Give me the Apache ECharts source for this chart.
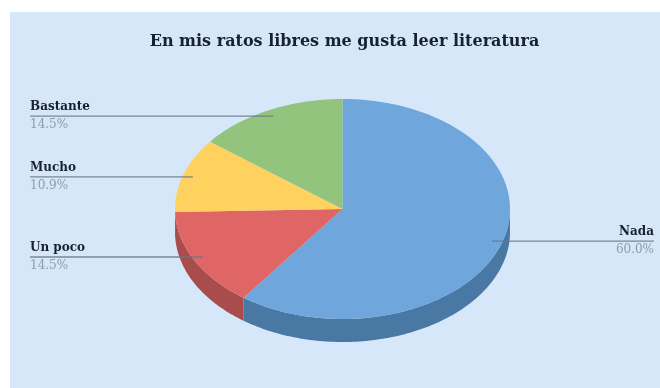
<!DOCTYPE html>
<html>
<head>
<meta charset="utf-8">
<style>
  html, body { margin: 0; padding: 0; background: #ffffff; }
  #chart { width: 660px; height: 388px; }
</style>
<script src="https://cdn.jsdelivr.net/npm/echarts@6/dist/echarts.min.js"></script>
</head>
<body>
<div id="chart"></div>
<script>
// Survey answers, in clockwise order from twelve o'clock
const categories = ['Nada', 'Un poco', 'Mucho', 'Bastante'];
const percentages = [60.0, 14.5, 10.9, 14.5];
const topColors = ['#6fa6dc', '#e06666', '#ffd25f', '#93c47d'];
const sideColors = ['#4a78a5', '#a84c4c', '#b8973f', '#6b9158'];

const titleText = 'En mis ratos libres me gusta leer literatura';
const serif = '"DejaVu Serif", serif';

// Geometry of the tilted disc
const cx = 342.5, cy = 209, rx = 167.5, ry = 110, depth = 23;
const labelLeft = 30, labelRight = 654, anchorRatio = 0.94;

const total = percentages.reduce((a, b) => a + b, 0);
const starts = [];
percentages.reduce((acc, v, i) => { starts[i] = acc; return acc + v; }, 0);

// Angle is measured clockwise from the top of the disc
const rimPoint = (a, k = 1, dy = 0) => [cx + rx * k * Math.sin(a), cy - ry * k * Math.cos(a) + dy];

function arcPoints(from, to, dy) {
  const steps = Math.max(2, Math.ceil((to - from) / 0.02));
  const pts = [];
  for (let i = 0; i <= steps; i++) pts.push(rimPoint(from + (to - from) * i / steps, 1, dy));
  return pts;
}

function renderSlice(params, api) {
  const i = params.dataIndex;
  const a0 = api.value(1) / total * 2 * Math.PI;
  const a1 = a0 + api.value(0) / total * 2 * Math.PI;
  const children = [];

  // Side wall: only the front half of the rim is visible
  const s0 = Math.max(a0, Math.PI / 2), s1 = Math.min(a1, 3 * Math.PI / 2);
  if (s1 > s0) {
    const pts = arcPoints(s0, s1, 0).concat(arcPoints(s0, s1, depth).reverse());
    children.push({ type: 'polygon', z2: 1, shape: { points: pts }, style: { fill: sideColors[i] } });
  }

  // Top face
  children.push({
    type: 'polygon', z2: 2,
    shape: { points: [[cx, cy]].concat(arcPoints(a0, a1, 0)) },
    style: { fill: topColors[i] }
  });

  // Leader line running under the category name
  const mid = (a0 + a1) / 2;
  const anchor = rimPoint(mid, anchorRatio);
  const onRight = mid < Math.PI;
  const x = onRight ? labelRight : labelLeft;
  children.push({
    type: 'line', z2: 3,
    shape: { x1: x, y1: anchor[1], x2: anchor[0], y2: anchor[1] },
    style: { stroke: '#66778c', lineWidth: 1.3, opacity: 0.85 }
  });
  children.push({
    type: 'text', z2: 4,
    style: {
      x, y: anchor[1] - 3, text: categories[i], align: onRight ? 'right' : 'left',
      verticalAlign: 'bottom', fill: '#18222f', font: 'bold 12px ' + serif
    }
  });
  children.push({
    type: 'text', z2: 4,
    style: {
      x, y: anchor[1] + 3, text: api.value(0).toFixed(1) + '%', align: onRight ? 'right' : 'left',
      verticalAlign: 'top', fill: '#8f9cac', font: '12px ' + serif
    }
  });
  return { type: 'group', children };
}

const chart = echarts.init(document.getElementById('chart'), null, { renderer: 'canvas' });
chart.setOption({
  animation: false,
  title: {
    text: titleText, left: 339.5, top: 29, textAlign: 'center',
    textStyle: { fontFamily: serif, fontWeight: 'bold', fontSize: 16, color: '#18222f' }
  },
  graphic: [{
    type: 'rect', z: -1, silent: true,
    shape: { x: 10, y: 12, width: 650, height: 376 },
    style: { fill: '#d6e7f9' }
  }],
  series: [{
    type: 'custom',
    coordinateSystem: 'none',
    clip: false,
    renderItem: renderSlice,
    data: percentages.map((v, i) => [v, starts[i]])
  }]
});
</script>
</body>
</html>
